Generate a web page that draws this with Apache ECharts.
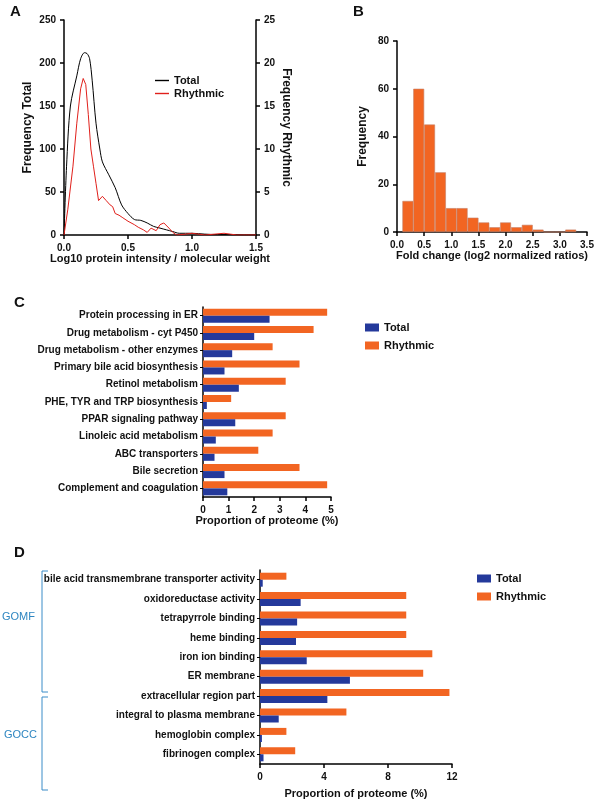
<!DOCTYPE html>
<html><head><meta charset="utf-8">
<script src="https://cdn.jsdelivr.net/npm/echarts@6/dist/echarts.min.js"></script>
<style>html,body{margin:0;padding:0;background:#fff}#c{width:597px;height:800px}</style>
</head><body><div id="c"></div>
<script>
// Panel A
const aTotal = [[0,0],[0.02,80],[0.05,150],[0.1,185],[0.13,205],[0.16,212],[0.18,211],[0.2,205],[0.22,180],[0.25,130],[0.28,100],[0.3,85],[0.35,70],[0.4,55],[0.45,35],[0.5,25],[0.55,18],[0.6,17],[0.65,14],[0.7,10],[0.75,8],[0.8,6],[0.85,4],[0.9,2],[1.0,2],[1.1,1],[1.2,0.5],[1.3,0.5],[1.4,0],[1.5,0]];
const aRhythmic = [[0,0],[0.03,3],[0.07,8],[0.1,13],[0.13,17],[0.15,18.2],[0.17,17.5],[0.19,14],[0.21,10],[0.23,8],[0.25,6],[0.27,4],[0.28,4.2],[0.3,4.5],[0.33,4],[0.36,3.5],[0.38,3.3],[0.4,2.5],[0.43,2.3],[0.46,2],[0.5,1.6],[0.55,1.2],[0.58,0.9],[0.62,0.6],[0.65,0.3],[0.68,0.8],[0.72,0.5],[0.75,1.2],[0.78,1.4],[0.82,0.8],[0.85,0.3],[0.88,0],[0.95,0.1],[1.0,0.2],[1.05,0.1],[1.1,0],[1.25,0.2],[1.3,0.1],[1.35,0],[1.5,0]];
// Panel B
const bCenters = [0.2,0.4,0.6,0.8,1.0,1.2,1.4,1.6,1.8,2.0,2.2,2.4,2.6,2.8,3.0,3.2];
const bCounts = [13,60,45,25,10,10,6,4,2,4,2,3,1,0,0,1];
// Panel C
const cCats = ['Protein processing in ER','Drug metabolism - cyt P450','Drug metabolism - other enzymes','Primary bile acid biosynthesis','Retinol metabolism','PHE, TYR and TRP biosynthesis','PPAR signaling pathway','Linoleic acid metabolism','ABC transporters','Bile secretion','Complement and coagulation'];
const cTotal = [2.6,2.0,1.14,0.84,1.4,0.15,1.26,0.5,0.45,0.84,0.95];
const cRhythmic = [4.85,4.32,2.72,3.77,3.23,1.1,3.23,2.72,2.16,3.77,4.85];
// Panel D
const dCats = ['bile acid transmembrane transporter activity','oxidoreductase activity','tetrapyrrole binding','heme binding','iron ion binding','ER membrane','extracellular region part','integral to plasma membrane','hemoglobin complex','fibrinogen complex'];
const dTotal = [0.17,2.54,2.32,2.25,2.92,5.62,4.21,1.17,0.12,0.22];
const dRhythmic = [1.65,9.14,9.14,9.14,10.77,10.2,11.84,5.4,1.65,2.2];

const F = 'Liberation Sans, Arial, sans-serif';
const ORANGE = '#F26522', BLUE = '#24399B';
const lab = {color:'#111', fontFamily:F, fontWeight:'bold', fontSize:10};
const axl = {show:true, lineStyle:{color:'#000', width:1.5}};
const tk = {show:true, length:4, lineStyle:{color:'#000', width:1.5}};
const nm = {color:'#111', fontFamily:F, fontWeight:'bold', fontSize:11};

const chart = echarts.init(document.getElementById('c'));
chart.setOption({
  animation:false,
  grid:[
    {left:64, top:20, width:192, height:215},
    {left:397, top:41, width:190, height:191},
    {left:203, top:307, width:128, height:190},
    {left:260, top:570, width:192, height:195}
  ],
  xAxis:[
    {gridIndex:0, type:'value', min:0, max:1.5, interval:0.5, axisLine:axl, axisTick:tk, splitLine:{show:false},
      axisLabel:Object.assign({}, lab, {formatter:v=>v.toFixed(1)}), name:'Log10 protein intensity / molecular weight', nameLocation:'middle', nameGap:18, nameTextStyle:nm},
    {gridIndex:1, type:'value', min:0, max:3.5, interval:0.5, axisLine:axl, axisTick:tk, splitLine:{show:false},
      axisLabel:Object.assign({}, lab, {formatter:v=>v.toFixed(1)}), name:'Fold change (log2 normalized ratios)', nameLocation:'middle', nameGap:18, nameTextStyle:nm},
    {gridIndex:2, type:'value', min:0, max:5, interval:1, axisLine:axl, axisTick:tk, splitLine:{show:false},
      axisLabel:lab, name:'Proportion of proteome (%)', nameLocation:'middle', nameGap:18, nameTextStyle:nm},
    {gridIndex:3, type:'value', min:0, max:12, interval:4, axisLine:axl, axisTick:tk, splitLine:{show:false},
      axisLabel:lab, name:'Proportion of proteome (%)', nameLocation:'middle', nameGap:24, nameTextStyle:nm}
  ],
  yAxis:[
    {gridIndex:0, type:'value', min:0, max:250, interval:50, axisLine:axl, axisTick:tk, splitLine:{show:false},
      axisLabel:lab, name:'Frequency Total', nameLocation:'middle', nameGap:30, nameTextStyle:Object.assign({},nm,{fontSize:12})},
    {gridIndex:0, type:'value', position:'right', min:0, max:25, interval:5, axisLine:axl, axisTick:tk, splitLine:{show:false},
      axisLabel:lab, name:'Frequency Rhythmic', nameLocation:'middle', nameGap:24, nameRotate:-90, nameTextStyle:Object.assign({},nm,{fontSize:12})},
    {gridIndex:1, type:'value', min:0, max:80, interval:20, axisLine:axl, axisTick:tk, splitLine:{show:false},
      axisLabel:lab, name:'Frequency', nameLocation:'middle', nameGap:28, nameTextStyle:Object.assign({},nm,{fontSize:12})},
    {gridIndex:2, type:'category', data:cCats, inverse:true, axisLine:axl, axisTick:{show:true, length:3, alignWithLabel:true, lineStyle:{color:'#000'}}, axisLabel:Object.assign({},lab,{margin:5})},
    {gridIndex:3, type:'category', data:dCats, inverse:true, axisLine:axl, axisTick:{show:true, length:3, alignWithLabel:true, lineStyle:{color:'#000'}}, axisLabel:Object.assign({},lab,{margin:5})}
  ],
  legend:[
    {data:['Total','Rhythmic'], left:150, top:70, orient:'vertical', itemWidth:14, itemGap:2, textStyle:nm, icon:'path://M0,0L10,0L10,1L0,1Z', itemHeight:2},
    {data:[{name:'Total ',icon:'rect'},{name:'Rhythmic ',icon:'rect'}], left:360, top:317, orient:'vertical', itemWidth:14, itemHeight:8, itemGap:7, textStyle:nm},
    {data:[{name:'Total  ',icon:'rect'},{name:'Rhythmic  ',icon:'rect'}], left:472, top:568, orient:'vertical', itemWidth:14, itemHeight:8, itemGap:7, textStyle:nm}
  ],
  series:[
    {name:'Total', type:'line', xAxisIndex:0, yAxisIndex:0, data:aTotal, symbol:'none', smooth:0.3, lineStyle:{color:'#000', width:1}, itemStyle:{color:'#000'}},
    {name:'Rhythmic', type:'line', xAxisIndex:0, yAxisIndex:1, data:aRhythmic, symbol:'none', lineStyle:{color:'#E0201B', width:1}, itemStyle:{color:'#E0201B'}},
    {type:'bar', xAxisIndex:1, yAxisIndex:2, data:bCenters.map((c,i)=>[c,bCounts[i]]), barWidth:10.9, itemStyle:{color:ORANGE, borderColor:'#C4826A', borderWidth:0.6}},
    {name:'Rhythmic ', type:'bar', xAxisIndex:2, yAxisIndex:3, data:cRhythmic, barWidth:7, barGap:'0%', itemStyle:{color:ORANGE}},
    {name:'Total ', type:'bar', xAxisIndex:2, yAxisIndex:3, data:cTotal, barWidth:7, itemStyle:{color:BLUE}},
    {name:'Rhythmic  ', type:'bar', xAxisIndex:3, yAxisIndex:4, data:dRhythmic, barWidth:7, barGap:'0%', itemStyle:{color:ORANGE}},
    {name:'Total  ', type:'bar', xAxisIndex:3, yAxisIndex:4, data:dTotal, barWidth:7, itemStyle:{color:BLUE}}
  ],
  graphic:[
    {type:'text', left:10, top:4, style:{text:'A', font:'bold 15px '+F, fill:'#111'}},
    {type:'text', left:353, top:4, style:{text:'B', font:'bold 15px '+F, fill:'#111'}},
    {type:'text', left:14, top:295, style:{text:'C', font:'bold 15px '+F, fill:'#111'}},
    {type:'text', left:14, top:545, style:{text:'D', font:'bold 15px '+F, fill:'#111'}},
    {type:'polyline', shape:{points:[[48,571],[42,571],[42,692],[48,692]]}, style:{stroke:'#3A8CC8', lineWidth:1, fill:null}},
    {type:'polyline', shape:{points:[[48,697],[42,697],[42,790],[48,790]]}, style:{stroke:'#3A8CC8', lineWidth:1, fill:null}},
    {type:'text', left:2, top:611, style:{text:'GOMF', font:'11px '+F, fill:'#2E86C1'}},
    {type:'text', left:4, top:729, style:{text:'GOCC', font:'11px '+F, fill:'#2E86C1'}}
  ]
});
</script></body></html>
